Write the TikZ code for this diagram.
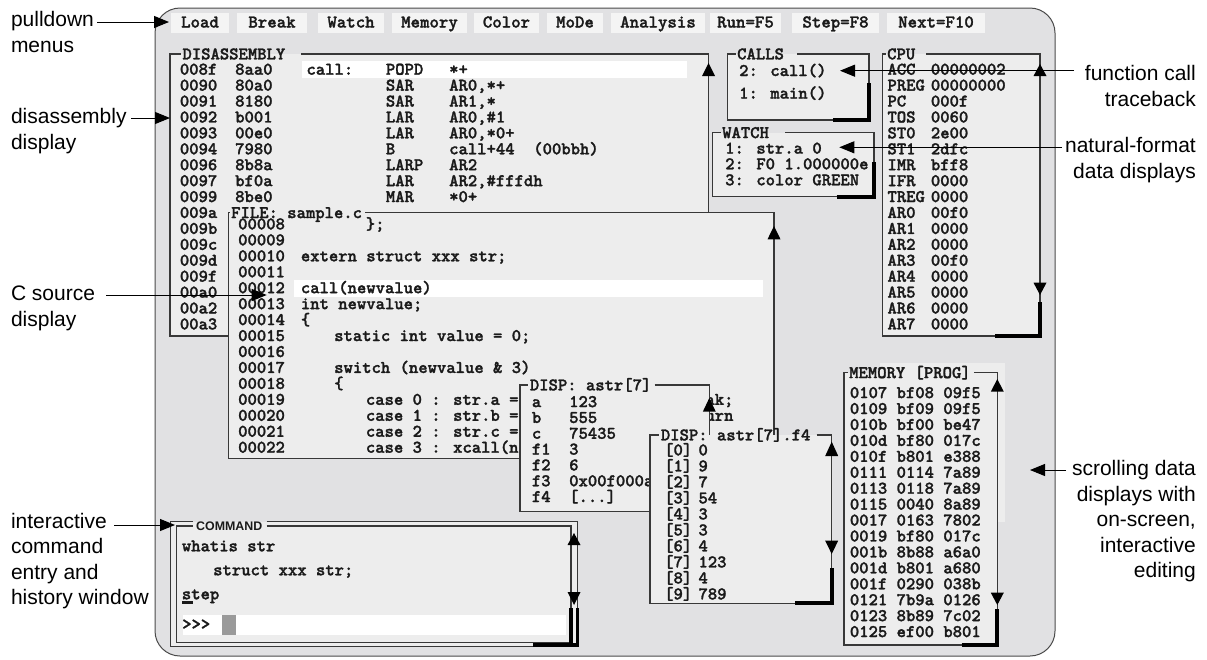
\documentclass[tikz,border=0pt]{standalone}
\usepackage{fontspec}
\newfontfamily\labfont{Liberation Sans}
\newfontfamily\monob{lmmonolt10-bold.otf}[FakeBold=1.5]
\usetikzlibrary{arrows.meta}
\definecolor{scrbg}{HTML}{E1E1E3}
\definecolor{scrline}{HTML}{4A4A4A}
\definecolor{winbg}{HTML}{EDEDED}
\definecolor{menubg}{HTML}{F4F4F4}
\definecolor{frm}{HTML}{383838}
\definecolor{txt}{HTML}{1A1A1A}
\definecolor{cursorc}{HTML}{9A9A9A}
\newcommand\monosize{\fontsize{17.8}{18}\selectfont}
\tikzset{
 mono/.style={font=\monob\monosize, text=txt, inner sep=0pt, anchor=base west},
 menutext/.style={font=\monob\fontsize{18}{18}\selectfont, text=txt, inner sep=0pt, anchor=base},
 frame/.style={draw=frm, line width=1.2pt},
 thickbar/.style={draw=black, line width=4.2pt},
 labtext/.style={font=\labfont\fontsize{21}{25.5}\selectfont, text=black, inner sep=0pt},
 labarrow/.style={draw=black, line width=1pt, -{Triangle[length=15pt,width=12pt]}},
}
% window: x1 y1 x2 y2 titlename titlex gap title
\newcommand\winbox[8]{%
 \fill[winbg] (#1,#2) rectangle (#3,#4);
 \pgfmathsetmacro\tb{#2+5.4}
 \node[mono] (#5) at (#6,\tb) {#8};
 \coordinate (#5y) at (#1,#2);
 \draw[frame] ([xshift=#7pt]#5.east |- #5y) -- (#3,#2) -- (#3,#4) -- (#1,#4) -- (#1,#2) -- ([xshift=-1.5pt]#5.west |- #5y);
}
\newcommand\scrarrow[3]{\fill[black] ({#1-6.5},#3) -- (#1,#2) -- ({#1+6.5},#3) -- cycle;}
\newcommand\thickL[4]{\draw[thickbar] (#3,#2) -- (#1,#2) -- (#1,#4);}
\newcommand\drow[6]{\pgfmathsetmacro\yy{74.7+15.92*#1}%
 \node[mono] (da#1) at (179.7,\yy) {#2};
 \node[mono] (dh#1) at (235,\yy) {#3};
 \node[mono] (dl#1) at (306.3,\yy) {#4};
 \node[mono] (dm#1) at (385.7,\yy) {#5};
 \node[mono] (do#1) at (449,\yy) {#6};}
\newcommand\crow[3]{\pgfmathsetmacro\yy{74.7+15.92*#1}%
 \node[mono] (cn#1) at (887.3,\yy) {#2};
 \node[mono] (cv#1) at (930.7,\yy) {#3};}
\newcommand\frow[4]{\pgfmathsetmacro\yy{229.4+15.95*#1}%
 \node[mono] (fn#1) at (238,\yy) {#2};
 \node[mono] (fc#1) at (#3,\yy) {#4};}
\newcommand\prow[3]{\pgfmathsetmacro\yy{407.1+15.83*#1}%
 \node[mono] (pn#1) at (531.7,\yy) {#2};
 \node[mono] (pv#1) at (569,\yy) {#3};}
\newcommand\qrow[3]{\pgfmathsetmacro\yy{455.4+16*#1}%
 \node[mono] (qn#1) at (664,\yy) {#2};
 \node[mono] (qv#1) at (698.3,\yy) {#3};}
\newcommand\mrow[2]{\pgfmathsetmacro\yy{398.1+15.93*#1}%
 \node[mono] (mr#1) at (849.7,\yy) {#2};}
\newcommand\menuitem[4]{\fill[menubg] (#1,12.5) rectangle (#2,32.5);
 \node[menutext] (#4) at ({(#1+#2)/2},27.5) {#3};}

\begin{document}
\begin{tikzpicture}[x=1pt,y=-1pt]
\useasboundingbox (0,0) rectangle (1207,659);
% screen
\draw[fill=scrbg, draw=scrline, line width=1pt, rounded corners=25pt] (155,8) rectangle (1055,656);
% menu bar
\menuitem{171}{229}{Load}{mLoad}
\menuitem{237}{307}{Break}{mBreak}
\menuitem{318}{384}{Watch}{mWatch}
\menuitem{392}{467}{Memory}{mMemory}
\menuitem{474}{539}{Color}{mColor}
\menuitem{547}{603}{MoDe}{mMode}
\menuitem{611}{705}{Analysis}{mAnalysis}
\menuitem{710}{781}{Run=F5}{mRun}
\menuitem{792}{879}{Step=F8}{mStep}
\menuitem{887}{985}{Next=F10}{mNext}
% DISASSEMBLY
\winbox{170}{54}{708.5}{336}{tdis}{182.3}{16}{DISASSEMBLY}
\fill[white] (301.7,60.7) rectangle (686.7,77.5);
\drow{0}{008f}{8aa0}{call:}{POPD}{*+}
\drow{1}{0090}{80a0}{}{SAR}{AR0,*+}
\drow{2}{0091}{8180}{}{SAR}{AR1,*}
\drow{3}{0092}{b001}{}{LAR}{AR0,\#1}
\drow{4}{0093}{00e0}{}{LAR}{AR0,*0+}
\drow{5}{0094}{7980}{}{B}{call+44~~(00bbh)}
\drow{6}{0096}{8b8a}{}{LARP}{AR2}
\drow{7}{0097}{bf0a}{}{LAR}{AR2,\#fffdh}
\drow{8}{0099}{8be0}{}{MAR}{*0+}
\drow{9}{009a}{}{}{}{}
\drow{10}{009b}{}{}{}{}
\drow{11}{009c}{}{}{}{}
\drow{12}{009d}{}{}{}{}
\drow{13}{009f}{}{}{}{}
\drow{14}{00a0}{}{}{}{}
\drow{15}{00a2}{}{}{}{}
\drow{16}{00a3}{}{}{}{}
\scrarrow{708.5}{63}{76}
% CALLS
\winbox{727.3}{54}{869}{120}{tcalls}{737}{13}{CALLS}
\node[mono] (call2) at (739,76) {2: call()};
\node[mono] (call1) at (739,98.6) {1: main()};
\thickL{869}{120}{833}{83}
% WATCH
\winbox{712.7}{132.7}{874}{196.7}{twatch}{722}{16}{WATCH}
\node[mono] (w1) at (725,153.6) {1: str.a 0};
\node[mono] (w2) at (725,169.3) {2: F0 1.000000e};
\node[mono] (w3) at (725,185.3) {3: color GREEN};
\thickL{874}{196.7}{836.7}{161.7}
% CPU
\winbox{882.7}{54}{1040}{336}{tcpu}{887}{11}{CPU}
\crow{0}{ACC}{00000002}
\crow{1}{PREG}{00000000}
\crow{2}{PC}{000f}
\crow{3}{TOS}{0060}
\crow{4}{ST0}{2e00}
\crow{5}{ST1}{2dfc}
\crow{6}{IMR}{bff8}
\crow{7}{IFR}{0000}
\crow{8}{TREG}{0000}
\crow{9}{AR0}{00f0}
\crow{10}{AR1}{0000}
\crow{11}{AR2}{0000}
\crow{12}{AR3}{00f0}
\crow{13}{AR4}{0000}
\crow{14}{AR5}{0000}
\crow{15}{AR6}{0000}
\crow{16}{AR7}{0000}
\scrarrow{1040}{64}{76}
\scrarrow{1040}{295}{282.7}
\thickL{1040}{336}{995}{301.7}
% FILE
\winbox{228.3}{212.7}{774}{458.3}{tfile}{231}{3}{FILE: sample.c}
\fill[white] (294.3,280) rectangle (763.3,296.7);
\frow{0}{00008}{365.7}{\};}
\frow{1}{00009}{300.7}{}
\frow{2}{00010}{300.7}{extern struct xxx str;}
\frow{3}{00011}{300.7}{}
\frow{4}{00012}{300.7}{call(newvalue)}
\frow{5}{00013}{300.7}{int newvalue;}
\frow{6}{00014}{300.7}{\{}
\frow{7}{00015}{334}{static int value = 0;}
\frow{8}{00016}{300.7}{}
\frow{9}{00017}{334}{switch (newvalue \& 3)}
\frow{10}{00018}{334}{\{}
\frow{11}{00019}{365.7}{case 0 : str.a = newvalue;~~~~~~~break;}
\frow{12}{00020}{365.7}{case 1 : str.b = newvalue;~~~~~~~return}
\frow{13}{00021}{365.7}{case 2 : str.c = newvalue;}
\frow{14}{00022}{365.7}{case 3 : xcall(newvalue);}
\scrarrow{774}{226}{239.3}
% DISP astr[7]
\winbox{520}{385}{709.3}{511.7}{tdisp}{529.7}{3}{DISP: astr[7]}
\prow{0}{a}{123}
\prow{1}{b}{555}
\prow{2}{c}{75435}
\prow{3}{f1}{3}
\prow{4}{f2}{6}
\prow{5}{f3}{0x00f000a0}
\prow{6}{f4}{[...]}
\scrarrow{709.3}{398}{411.7}
% DISP astr[7].f4
\winbox{650}{435}{831.7}{603.3}{tfour}{660.7}{6}{DISP: astr[7].f4}
\qrow{0}{[0]}{0}
\qrow{1}{[1]}{9}
\qrow{2}{[2]}{7}
\qrow{3}{[3]}{54}
\qrow{4}{[4]}{3}
\qrow{5}{[5]}{3}
\qrow{6}{[6]}{4}
\qrow{7}{[7]}{123}
\qrow{8}{[8]}{4}
\qrow{9}{[9]}{789}
\scrarrow{831.7}{441.7}{456}
\scrarrow{831.7}{554}{540.7}
\thickL{831.7}{603.3}{795}{568.3}
% MEMORY
\fill[winbg] (880,363.3) rectangle (1005,521.7);
\winbox{844}{372.7}{997.3}{645}{tmem}{849}{3}{MEMORY [PROG]}
\mrow{0}{0107 bf08 09f5}
\mrow{1}{0109 bf09 09f5}
\mrow{2}{010b bf00 be47}
\mrow{3}{010d bf80 017c}
\mrow{4}{010f b801 e388}
\mrow{5}{0111 0114 7a89}
\mrow{6}{0113 0118 7a89}
\mrow{7}{0115 0040 8a89}
\mrow{8}{0017 0163 7802}
\mrow{9}{0019 bf80 017c}
\mrow{10}{001b 8b88 a6a0}
\mrow{11}{001d b801 a680}
\mrow{12}{001f 0290 038b}
\mrow{13}{0121 7b9a 0126}
\mrow{14}{0123 8b89 7c02}
\mrow{15}{0125 ef00 b801}
\scrarrow{997.3}{379}{391.7}
\scrarrow{997.3}{605}{592.7}
\thickL{997.3}{645}{961.7}{609.3}
% COMMAND
\fill[winbg] (170.7,521.7) rectangle (577.3,646.7);
\node[font=\labfont\bfseries\fontsize{12.4}{13}\selectfont, inner sep=0pt, anchor=base west, text=txt] (tcmd) at (196,530) {COMMAND};
\coordinate (cmdo) at (170.7,521.7);
\coordinate (cmdi) at (176.7,526);
\draw[frame] ([xshift=4pt]tcmd.east |- cmdo) -- (577.3,521.7) -- (577.3,646.7) -- (170.7,646.7) -- (170.7,521.7) -- ([xshift=-3pt]tcmd.west |- cmdo);
\draw[frame] ([xshift=4pt]tcmd.east |- cmdi) -- (571,526) -- (571,642.7) -- (176.7,642.7) -- (176.7,526) -- ([xshift=-3pt]tcmd.west |- cmdi);
\node[mono] (c1) at (181.7,551.3) {whatis str};
\node[mono] (c2) at (213,575.3) {struct xxx str;};
\node[mono] (c3) at (181.7,599.3) {step};
\fill[txt] (182.3,601) rectangle (192.5,604);
\fill[white] (182.7,615) rectangle (566,635);
\node[mono] (c4) at (182,629.5) {>>>};
\fill[cursorc] (221.7,615) rectangle (236,635);
\scrarrow{574}{533}{545}
\scrarrow{574}{605}{592}
\draw[thickbar, line width=3.6pt] (571,608) -- (571,646.7);
\draw[thickbar, line width=3.6pt] (577.3,608) -- (577.3,646.7);
\draw[thickbar] (533,644.8) -- (579,644.8);
% labels
\node[labtext, align=left, anchor=north west] (lpull) at (10.8,8.7) {\strut pulldown\\menus};
\node[labtext, align=left, anchor=north west] (ldis) at (10.8,105.7) {\strut disassembly\\display};
\node[labtext, align=left, anchor=north west] (lsrc) at (10.8,282.7) {\strut C source\\display};
\node[labtext, align=left, anchor=north west] (lcmd) at (10.8,510.2) {\strut interactive\\command\\entry and\\history window};
\node[labtext, align=right, anchor=north east] (lfnc) at (1196,62.7) {\strut function call\\traceback};
\node[labtext, align=right, anchor=north east] (lnat) at (1196,134.7) {\strut natural-format\\data displays};
\node[labtext, align=right, anchor=north east] (lscr) at (1196,457.7) {\strut scrolling data\\displays with\\on-screen,\\interactive\\editing};
\coordinate (pullS) at (97,22);   \coordinate (pullT) at (169,22);
\coordinate (disS) at (131,118);  \coordinate (disT) at (170,118);
\coordinate (srcS) at (106,295);  \coordinate (srcT) at (266.7,295);
\coordinate (cmdS) at (114,525);  \coordinate (cmdT) at (175,525);
\coordinate (fncS) at (1074,70.7); \coordinate (fncT) at (840,70.7);
\coordinate (natS) at (1062,147.3); \coordinate (natT) at (839.3,147.3);
\coordinate (scrS) at (1066,470); \coordinate (scrT) at (1030,470);
\draw[labarrow] (pullS) -- (pullT);
\draw[labarrow] (disS) -- (disT);
\draw[labarrow] (srcS) -- (srcT);
\draw[labarrow] (cmdS) -- (cmdT);
\draw[labarrow] (fncS) -- (fncT);
\draw[labarrow] (natS) -- (natT);
\draw[labarrow] (scrS) -- (scrT);
\end{tikzpicture}
\end{document}
